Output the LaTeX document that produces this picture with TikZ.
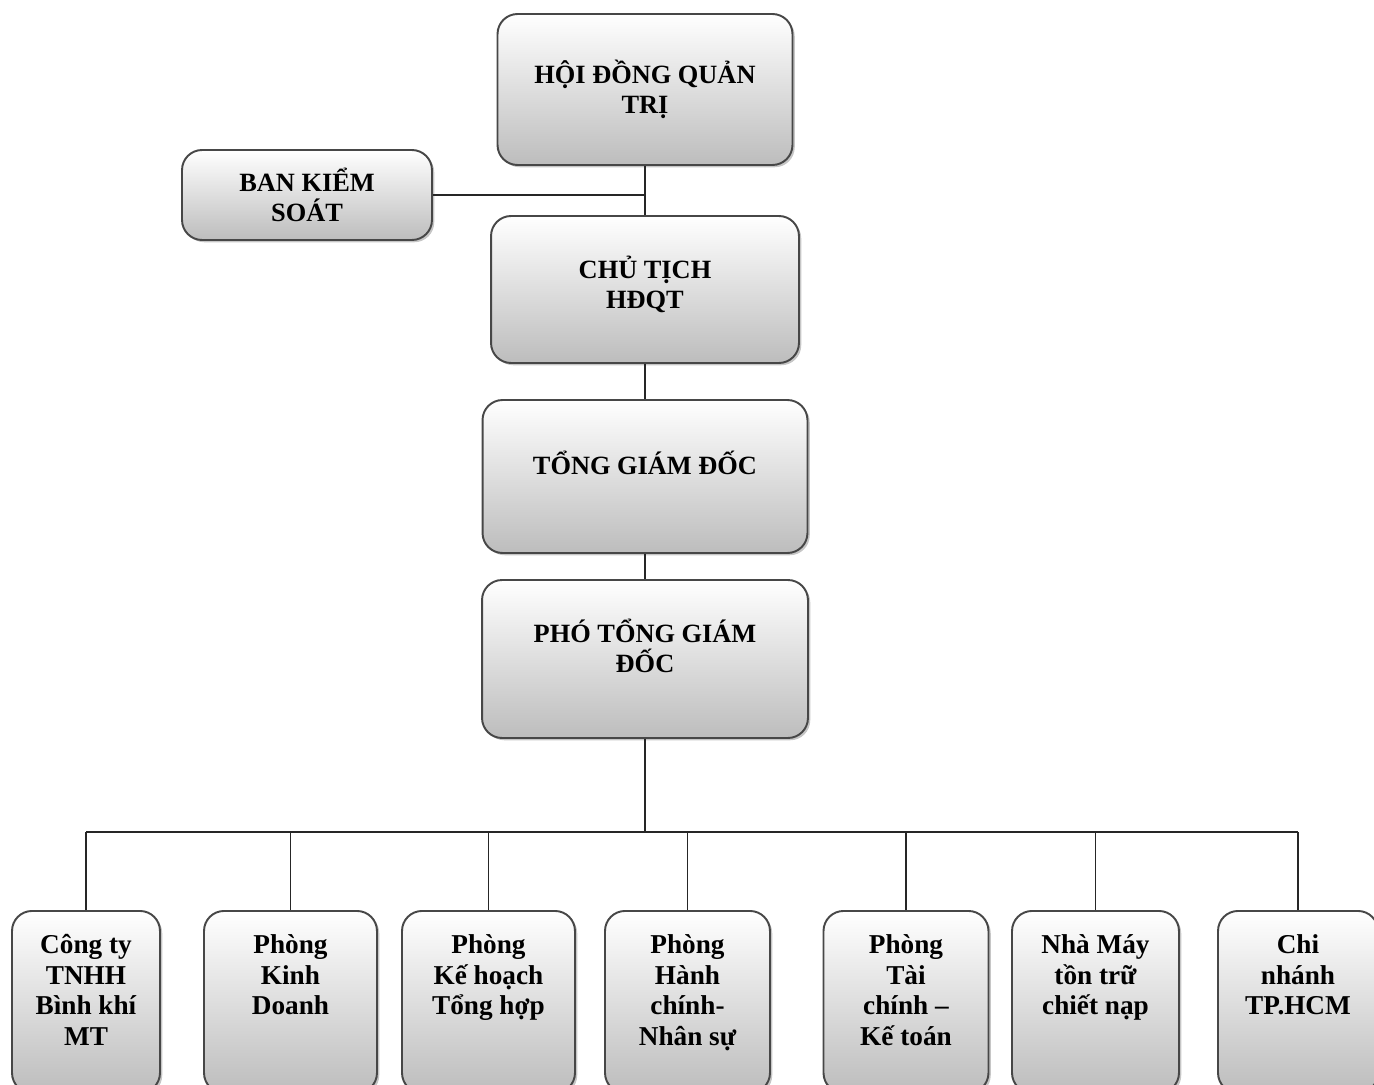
\documentclass[tikz,border=0pt]{standalone}
\usepackage{fontspec}
\setmainfont{Liberation Serif}
\usetikzlibrary{shadows,positioning}

\newcommand{\unittext}[1]{\parbox[t][2.82cm][t]{2.7cm}{\centering\strut #1}}

\begin{document}
\begin{tikzpicture}[
  x=0.02cm, y=-0.02cm,
  box/.style={draw=black!72, line width=1.1pt, rounded corners=0.4cm, top color=white, bottom color=black!26,
    drop shadow={shadow xshift=1.3pt, shadow yshift=-1.3pt, opacity=0.45}},
  board/.style={box, font=\fontsize{15}{17}\selectfont\bfseries, align=center, inner sep=2pt},
  unit/.style={box, font=\fontsize{15.5}{17.6}\selectfont\bfseries, anchor=north, inner xsep=1pt, inner ysep=0.41cm},
  link/.style={line width=0.9pt, black!85}
]
\path[use as bounding box, clip] (0,0) rectangle (1374,1085);

\node[board, minimum width=5.9cm, minimum height=3.02cm] (hdqt) at (645,89.5) {HỘI ĐỒNG QUẢN\\TRỊ};
\node[board, minimum width=5.0cm, minimum height=1.8cm] (bks) at (307,195) {BAN KIỂM\\SOÁT};
\node[board, minimum width=6.16cm, minimum height=2.94cm, text depth=0.3cm] (chutich) at (645,289.5) {CHỦ TỊCH\\HĐQT};
\node[board, minimum width=6.5cm, minimum height=3.06cm, text depth=0.55cm] (tgd) at (645,476.5) {TỔNG GIÁM ĐỐC};
\node[board, minimum width=6.52cm, minimum height=3.16cm, text depth=0.52cm] (ptgd) at (645,659) {PHÓ TỔNG GIÁM\\ĐỐC};

\node[unit, minimum width=2.96cm] (bk) at (86,910) {\unittext{Công ty\\TNHH\\Bình khí\\MT}};
\node[unit, minimum width=3.46cm] (kd) at (290.5,910) {\unittext{Phòng\\Kinh\\Doanh}};
\node[unit, minimum width=3.46cm] (khth) at (488.5,910) {\unittext{Phòng\\Kế hoạch\\Tổng hợp}};
\node[unit, minimum width=3.3cm] (hcns) at (687.5,910) {\unittext{Phòng\\Hành\\chính-\\Nhân sự}};
\node[unit, minimum width=3.3cm] (tckt) at (906,910) {\unittext{Phòng\\Tài\\chính –\\Kế toán}};
\node[unit, minimum width=3.34cm] (nm) at (1095.5,910) {\unittext{Nhà Máy\\tồn trữ\\chiết nạp}};
\node[unit, minimum width=3.2cm] (hcm) at (1298,910) {\unittext{Chi\\nhánh\\TP.HCM}};

\coordinate (bus) at (645,832);

\draw[link] (hdqt) -- (chutich);
\draw[link] (bks.east) -- (bks.east -| hdqt.south);
\draw[link] (chutich) -- (tgd);
\draw[link] (tgd) -- (ptgd);
\draw[link] (ptgd) -- (bus);
\draw[link] (bus -| bk.north) -- (bus -| hcm.north);
\foreach \u in {bk,kd,khth,hcns,tckt,nm,hcm}
  \draw[link] (bus -| \u.north) -- (\u.north);
\end{tikzpicture}
\end{document}
